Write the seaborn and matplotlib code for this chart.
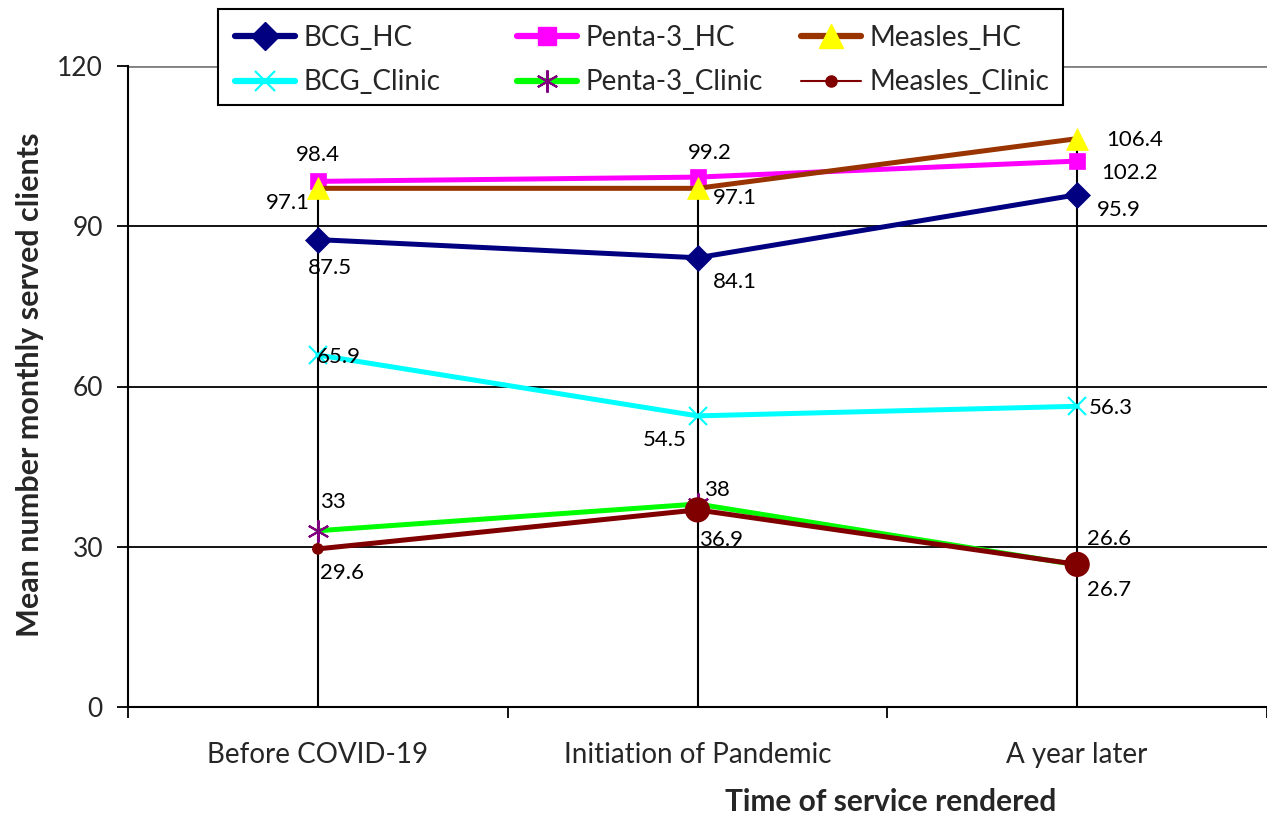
import matplotlib
matplotlib.use("Agg")
import matplotlib.pyplot as plt
from matplotlib.lines import Line2D
from matplotlib.patches import Rectangle
from matplotlib.transforms import blended_transform_factory
import seaborn as sns
import pandas as pd

# Data
periods = ["Before COVID-19", "Initiation of Pandemic", "A year later"]
bcg_hc = [87.5, 84.1, 95.9]
penta3_hc = [98.4, 99.2, 102.2]
measles_hc = [97.1, 97.1, 106.4]
bcg_clinic = [65.9, 54.5, 56.3]
penta3_clinic = [33, 38, 26.6]
measles_clinic = [29.6, 36.9, 26.7]
y_ticks = [0, 30, 60, 90, 120]

sns.set_theme(style="white")
plt.rcParams["font.family"] = ["Lato", "DejaVu Sans"]

W, H = 1267, 815
fig = plt.figure(figsize=(W / 100, H / 100), dpi=100)
ax = fig.add_axes([128 / W, 1 - 707 / H, 1 - 128 / W, (707 - 66) / H])

xpos = [0.5, 1.5, 2.5]

# series: name, values, line color, marker, marker face, marker edge, ms
series = [
    ("BCG_HC", bcg_hc, "#000080", "D", "#000080", "#000080", 13),
    ("Penta-3_HC", penta3_hc, "#FF00FF", "s", "#FF00FF", "#FF00FF", 12),
    ("Measles_HC", measles_hc, "#993300", "^", "#FFFF00", "#FFFF00", 16),
    ("BCG_Clinic", bcg_clinic, "#00FFFF", "x", "#00FFFF", "#00FFFF", 13),
    ("Penta-3_Clinic", penta3_clinic, "#00FF00", (6, 2, 0), "#800080", "#800080", 16),
    ("Measles_Clinic", measles_clinic, "#800000", None, "#800000", "#800000", 0),
]

# drop lines from the highest value at each period down to the axis
all_vals = [s[1] for s in series]
tops = [max(v[i] for v in all_vals) for i in range(3)]
ax.vlines(xpos, 0, tops, color="black", lw=1.5, zorder=2)

# horizontal gridlines
for yv in [30, 60, 90]:
    ax.axhline(yv, color="black", lw=1.3, zorder=1)
ax.axhline(120, color="#808080", lw=2, zorder=1)

for name, vals, lc, mk, mfc, mec, ms in series:
    df = pd.DataFrame({"x": xpos, "y": vals})
    kw = {}
    if mk is not None:
        kw = dict(marker=mk, markersize=ms, markerfacecolor=mfc, markeredgecolor=mec,
                  markeredgewidth=1.5 if mk in ("x", (6, 2, 0)) else 0.5)
    sns.lineplot(data=df, x="x", y="y", ax=ax, color=lc, lw=3.6, zorder=4, **kw)

# Measles_Clinic markers: small first point, larger later points
mc_sizes = [70, 330, 330]
sns.scatterplot(x=xpos, y=measles_clinic, s=mc_sizes, color="#800000", ax=ax,
                zorder=5, edgecolor="#800000", linewidth=0, legend=False)

# data labels (pixel offsets from each point)
offsets = {
    "BCG_HC": [(12, -28), (37, -24), (42, -15)],
    "Penta-3_HC": [(0, 26), (12, 24), (52, -12)],
    "Measles_HC": [(-30, -15), (37, -10), (57, -1)],
    "BCG_Clinic": [(21, -2), (-33, -24), (34, -2)],
    "Penta-3_Clinic": [(15, 29), (19, 14), (32, 26)],
    "Measles_Clinic": [(24, -24), (24, -30), (32, -26)],
}
for name, vals, *_ in series:
    for x, v, off in zip(xpos, vals, offsets[name]):
        ax.annotate(f"{v:g}", (x, v), xytext=off, textcoords="offset pixels",
                    ha="center", va="center", fontsize=16, color="black", zorder=6)

ax.set_xlim(0, 3)
ax.set_ylim(0, 120)
ax.set_yticks(y_ticks)
ax.set_yticklabels([str(t) for t in y_ticks], fontsize=19)
ax.set_xticks([0, 1, 2, 3])
ax.set_xticklabels([])
cat_tf = blended_transform_factory(ax.transData, fig.transFigure)
for x, lab in zip(xpos, periods):
    ax.text(x, 1 - 755 / H, lab, transform=cat_tf, ha="center", va="center",
            fontsize=20)
ax.tick_params(axis="both", direction="out", length=8, width=1.3, color="black",
               left=True, bottom=True)
ax.tick_params(axis="y", pad=10)

for side in ["top", "right"]:
    ax.spines[side].set_visible(False)
for side in ["left", "bottom"]:
    ax.spines[side].set_color("black")
    ax.spines[side].set_linewidth(1.5)
ax.set_xlabel("")
ax.set_ylabel("")
fig.text(30 / W, 1 - 385 / H, "Mean number monthly served clients", rotation=90,
         ha="center", va="center", fontsize=22, fontweight="bold")
fig.text(891 / W, 1 - 802 / H, "Time of service rendered", ha="center",
         va="center", fontsize=21.5, fontweight="bold")

# legend: framed box with three evenly spaced columns
fig.patches.append(Rectangle((218 / W, 1 - 105 / H), 845 / W, 96 / H,
                             transform=fig.transFigure, facecolor="white",
                             edgecolor="black", lw=1.5, zorder=10))
leg_cols = [
    (["BCG_HC", "BCG_Clinic"], [
        Line2D([], [], color="#000080", lw=4.5, marker="D", ms=14, mfc="#000080", mec="#000080"),
        Line2D([], [], color="#00FFFF", lw=4.5, marker="x", ms=14, mfc="#00FFFF", mec="#00FFFF", mew=1.5),
    ]),
    (["Penta-3_HC", "Penta-3_Clinic"], [
        Line2D([], [], color="#FF00FF", lw=4.5, marker="s", ms=13, mfc="#FF00FF", mec="#FF00FF"),
        Line2D([], [], color="#00FF00", lw=4.5, marker=(6, 2, 0), ms=16, mfc="#800080", mec="#800080", mew=1.5),
    ]),
    (["Measles_HC", "Measles_Clinic"], [
        Line2D([], [], color="#993300", lw=4.5, marker="^", ms=17, mfc="#FFFF00", mec="#FFFF00"),
        Line2D([], [], color="#800000", lw=1.5, marker="o", ms=8, mfc="#800000", mec="#800000"),
    ]),
]
col_x = [235, 517, 801]
for cx, (labs, hds) in zip(col_x, leg_cols):
    lg = fig.legend(hds, labs, loc="center left",
                    bbox_to_anchor=(cx / W, 1 - 60 / H), fontsize=20, frameon=False,
                    handlelength=2.16, handletextpad=0.32, labelspacing=0.67,
                    borderpad=0.0, borderaxespad=0.0)
    lg.set_zorder(11)

fig.savefig("out.png", dpi=100)
